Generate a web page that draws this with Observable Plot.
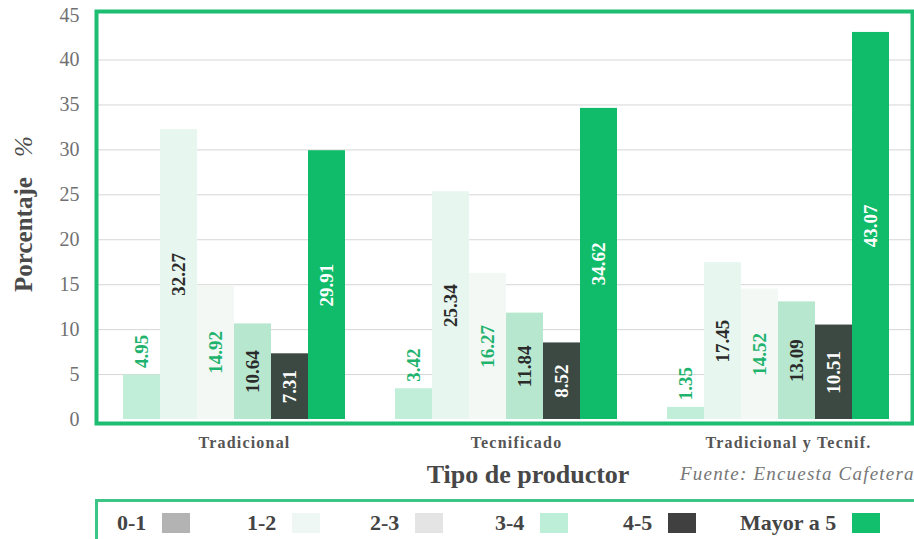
<!DOCTYPE html>
<html>
<head>
<meta charset="utf-8">
<script src="https://cdn.jsdelivr.net/npm/d3@7"></script>
<script src="https://cdn.jsdelivr.net/npm/@observablehq/plot@0.6"></script>
<style>
  html, body { margin: 0; padding: 0; background: #fff; }
  #wrap { position: relative; width: 914px; height: 539px; overflow: hidden; font-family: "Liberation Serif", "DejaVu Serif", serif; }
  #chart { position: absolute; left: 0; top: 0; }
  #chart g[aria-label="fx-axis tick label"] text { letter-spacing: 1.2px; }
  .ytitle { position: absolute; left: 24px; top: 214px; transform: translate(-50%, -50%) rotate(-90deg); white-space: nowrap; font-size: 25px; font-weight: bold; color: #4a4a4a; }
  .ytitle i { font-weight: normal; margin-left: 14px; }
  .xtitle { position: absolute; left: 528px; top: 460px; transform: translateX(-50%); white-space: nowrap; font-size: 26px; font-weight: bold; color: #474747; }
  .source { position: absolute; left: 680px; top: 463px; white-space: nowrap; font-size: 19px; letter-spacing: 1.2px; font-style: italic; color: #777; }
  .legend { position: absolute; left: 95px; top: 499px; width: 830px; height: 60px; border: 3px solid #3cc586; box-sizing: border-box; }
  .item { position: absolute; top: 8px; display: flex; align-items: center; font-size: 22px; font-weight: bold; color: #444; white-space: nowrap; }
  .sw { display: inline-block; width: 28px; height: 20px; margin-left: 16px; }
</style>
</head>
<body>
<div id="wrap">
  <div id="chart"></div>
  <div class="ytitle">Porcentaje <i>%</i></div>
  <div class="xtitle">Tipo de productor</div>
  <div class="source">Fuente: Encuesta Cafetera</div>
  <div class="legend" id="legend"></div>
</div>
<script>
// ---- data ----
const groups = ["Tradicional", "Tecnificado", "Tradicional y Tecnif."];
const series = ["0-1", "1-2", "2-3", "3-4", "4-5", "Mayor a 5"];
const v01    = [4.95, 3.42, 1.35];
const v12    = [32.27, 25.34, 17.45];
const v23    = [14.92, 16.27, 14.52];
const v34    = [10.64, 11.84, 13.09];
const v45    = [7.31, 8.52, 10.51];
const vMayor = [29.91, 34.62, 43.07];
const yTicks = [0, 5, 10, 15, 20, 25, 30, 35, 40, 45];

// ---- styles ----
const barColors    = ["#c0eed8", "#e7f6ee", "#f3f8f5", "#b7e8cf", "#3c4942", "#10bb69"];
const legendColors = ["#b3b3b3", "#eef7f3", "#e4e4e4", "#bdeed8", "#404040", "#12bf6c"];
const labelColors  = ["#1fb36e", "#2b2b2b", "#1fb36e", "#2b2b2b", "#ffffff", "#ffffff"];

const values = [v01, v12, v23, v34, v45, vMayor];
const data = [];
series.forEach((s, si) => groups.forEach((g, gi) => data.push({group: g, series: s, value: values[si][gi]})));

const colorOf = s => labelColors[series.indexOf(s)];
const distinctLabelColors = [...new Set(labelColors)];

const textMarks = [];
for (const c of distinctLabelColors) {
  const inside = data.filter(d => colorOf(d.series) === c && d.value >= 6);
  const above = data.filter(d => colorOf(d.series) === c && d.value < 6);
  textMarks.push(Plot.text(inside, {
    fx: "group", x: "series", y: d => d.value / 2, text: d => d.value.toFixed(2),
    rotate: -90, fill: c, fontSize: 19, fontWeight: "bold", textAnchor: "middle"
  }));
  textMarks.push(Plot.text(above, {
    fx: "group", x: "series", y: "value", text: d => d.value.toFixed(2),
    rotate: -90, fill: c, fontSize: 19, fontWeight: "bold", textAnchor: "start", dy: -7
  }));
}

const gridTicks = yTicks.filter(t => t > 0 && t < 45);

const chart = Plot.plot({
  width: 914,
  height: 460,
  marginTop: 11,
  marginBottom: 41,
  marginLeft: 95,
  marginRight: 2,
  style: {fontFamily: "Liberation Serif, serif", background: "transparent"},
  fx: {domain: groups, paddingInner: 0, paddingOuter: 0, label: null},
  x: {domain: series, padding: 0, axis: null, insetLeft: 25, insetRight: 21},
  y: {domain: [0, 45.4], label: null},
  color: {domain: series, range: barColors},
  marks: [
    Plot.gridY(gridTicks, {stroke: "#d6d6d6", strokeOpacity: 1, strokeWidth: 1}),
    Plot.barY(data, {fx: "group", x: "series", y: "value", fill: "series", insetLeft: 0, insetRight: 0}),
    ...textMarks,
    Plot.axisY({ticks: yTicks, tickSize: 0, tickPadding: 17, fontSize: 20, fill: "#707070", label: null}),
    Plot.axisFx({anchor: "bottom", tickSize: 0, tickPadding: 17, fontSize: 16, fontWeight: "bold", fill: "#555", label: null, dx: 12}),
    Plot.frame({facet: "super", stroke: "#1dbd72", strokeWidth: 4, insetBottom: -4})
  ]
});
document.getElementById("chart").appendChild(chart);

// legend (HTML)
const legendX = [19, 149, 272, 397, 525, 642];
const legend = document.getElementById("legend");
series.forEach((s, i) => {
  const it = document.createElement("div");
  it.className = "item";
  it.style.left = legendX[i] + "px";
  it.innerHTML = `<span>${s}</span><span class="sw" style="background:${legendColors[i]}"></span>`;
  legend.appendChild(it);
});
</script>
</body>
</html>
